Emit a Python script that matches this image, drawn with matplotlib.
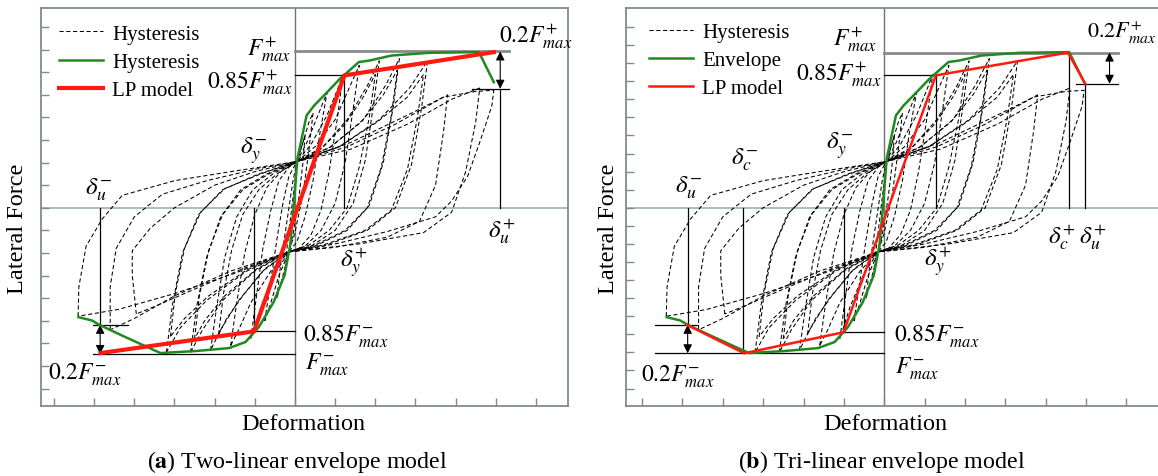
import matplotlib
matplotlib.use("Agg")
import matplotlib.pyplot as plt

plt.rcParams['font.family'] = ['Liberation Serif', 'DejaVu Serif']
plt.rcParams['mathtext.fontset'] = 'stix'

# ---------------------------------------------------------------- data
# skeleton (envelope) curve, shared by both panels
env_x = [-5.39, -5.05, -4.87, -4.31, -3.35, -2.47, -1.64, -1.23, -0.90, -0.53,
         -0.26, -0.12, -0.03, 0.06, 0.29, 0.48, 0.76, 1.12, 1.59, 1.86, 2.41,
         3.34, 4.58, 4.95]
env_y = [-4.84, -4.99, -5.18, -5.65, -6.43, -6.34, -6.21, -5.94, -5.28, -4.17,
         -2.99, -1.67, 0.10, 2.17, 4.09, 4.53, 5.04, 5.71, 6.45, 6.52, 6.74,
         6.86, 6.89, 5.56]

# bilinear LP model
lp2_x = [-4.84, -1.02, 1.23, 4.95]
lp2_y = [-6.43, -5.47, 5.86, 6.89]

# trilinear LP model
lp3_x = [-4.89, -3.47, -1.01, 1.28, 4.55, 4.98]
lp3_y = [-5.18, -6.44, -5.51, 5.86, 6.87, 5.49]

# hysteresis cycles (deformation, force)
loop_0 = [(-0.25, -3.0), (-0.2, -1.8), (-0.1, -0.3), (0.0, 1.2), (0.05, 2.0), (0.15, 2.6),
          (0.25, 3.2), (0.2, 2.0), (0.1, 0.5), (-0.05, -1.2), (-0.15, -1.95), (-0.22, -2.5),
          (-0.25, -3.0)]
loop_1 = [(-0.45, -4.0), (-0.35, -2.4), (-0.2, -0.6), (-0.05, 1.2), (0.05, 2.0), (0.2, 2.9),
          (0.35, 3.8), (0.45, 4.2), (0.35, 2.6), (0.2, 0.6), (0.0, -1.1), (-0.15, -1.95),
          (-0.3, -3.0), (-0.45, -4.0)]
loop_2 = [(-0.75, -5.0), (-0.6, -3.2), (-0.45, -1.4), (-0.3, 0.2), (-0.15, 1.4), (0.05, 2.05),
          (0.3, 2.9), (0.55, 4.0), (0.8, 5.1), (0.62, 3.3), (0.45, 1.2), (0.25, -0.4),
          (0.05, -1.5), (-0.15, -1.95), (-0.4, -3.0), (-0.6, -4.2), (-0.75, -5.0)]
loop_3 = [(-1.1, -5.8), (-0.95, -3.8), (-0.8, -1.8), (-0.6, -0.1), (-0.4, 1.2), (-0.15, 1.8),
          (0.05, 2.05), (0.4, 2.8), (0.8, 4.1), (1.05, 5.2), (1.2, 5.9), (1.05, 3.9),
          (0.85, 1.6), (0.65, -0.1), (0.4, -1.2), (0.1, -1.8), (-0.15, -1.95), (-0.5, -2.9),
          (-0.85, -4.4), (-1.1, -5.8)]
loop_4 = [(-1.6, -6.1), (-1.45, -4.2), (-1.25, -2.0), (-1.0, -0.3), (-0.7, 0.9), (-0.35, 1.6),
          (0.05, 2.05), (0.5, 2.7), (1.0, 3.9), (1.35, 5.3), (1.6, 6.3), (1.45, 4.4),
          (1.25, 2.0), (1.0, 0.2), (0.65, -1.0), (0.25, -1.7), (-0.15, -1.95), (-0.6, -2.8),
          (-1.1, -4.2), (-1.4, -5.4), (-1.6, -6.1)]
loop_5 = [(-2.1, -6.3), (-1.95, -4.4), (-1.75, -2.2), (-1.45, -0.4), (-1.05, 0.8), (-0.55, 1.5),
          (0.05, 2.05), (0.7, 2.7), (1.3, 3.9), (1.8, 5.4), (2.1, 6.5), (1.95, 4.5),
          (1.75, 2.1), (1.45, 0.2), (1.0, -1.0), (0.4, -1.7), (-0.15, -1.95), (-0.8, -2.8),
          (-1.4, -4.1), (-1.85, -5.4), (-2.1, -6.3)]
loop_5b = [(-1.9, -5.6), (-1.78, -3.8), (-1.58, -1.9), (-1.3, -0.3), (-0.9, 0.8), (-0.45, 1.5),
           (0.05, 2.05), (0.65, 2.6), (1.25, 3.7), (1.7, 4.9), (2.0, 5.9), (1.85, 4.0),
           (1.6, 1.8), (1.3, 0.0), (0.85, -1.0), (0.35, -1.65), (-0.15, -1.95), (-0.75, -2.7),
           (-1.3, -3.9), (-1.7, -4.9), (-1.9, -5.6)]
loop_6 = [(-2.6, -6.4), (-2.45, -4.4), (-2.2, -2.2), (-1.85, -0.4), (-1.35, 0.8), (-0.7, 1.5),
          (0.05, 2.05), (0.9, 2.7), (1.7, 3.9), (2.25, 5.4), (2.6, 6.6), (2.45, 4.5),
          (2.2, 2.0), (1.85, 0.1), (1.3, -1.0), (0.5, -1.7), (-0.15, -1.95), (-1.0, -2.8),
          (-1.8, -4.1), (-2.3, -5.4), (-2.6, -6.4)]
loop_6b = [(-2.5, -5.8), (-2.38, -3.9), (-2.15, -1.9), (-1.8, -0.3), (-1.3, 0.8), (-0.65, 1.5),
           (0.05, 2.05), (0.85, 2.65), (1.65, 3.8), (2.2, 5.0), (2.55, 6.1), (2.4, 4.1),
           (2.15, 1.8), (1.8, 0.0), (1.25, -1.0), (0.5, -1.65), (-0.15, -1.95), (-0.95, -2.7),
           (-1.75, -3.9), (-2.25, -5.0), (-2.5, -5.8)]
loop_7 = [(-3.2, -6.4), (-3.05, -4.3), (-2.8, -2.0), (-2.4, -0.3), (-1.8, 0.8), (-0.9, 1.5),
          (0.05, 2.05), (1.1, 2.7), (2.1, 3.9), (2.85, 5.3), (3.3, 6.5), (3.15, 4.4),
          (2.9, 1.9), (2.5, 0.0), (1.8, -1.0), (0.7, -1.7), (-0.15, -1.95), (-1.2, -2.8),
          (-2.2, -4.1), (-2.85, -5.3), (-3.2, -6.4)]
loop_7b = [(-3.1, -5.7), (-2.98, -3.8), (-2.75, -1.8), (-2.35, -0.2), (-1.75, 0.85), (-0.85, 1.5),
           (0.05, 2.05), (1.1, 2.7), (2.05, 3.8), (2.8, 4.9), (3.2, 5.9), (3.05, 4.0),
           (2.8, 1.7), (2.4, -0.1), (1.75, -1.0), (0.7, -1.65), (-0.15, -1.95), (-1.2, -2.75),
           (-2.15, -3.9), (-2.75, -4.9), (-3.1, -5.7)]
loop_8 = [(-3.95, -4.7), (-4.05, -3.0), (-4.05, -1.9), (-3.6, -0.9), (-3.0, 0.0), (-2.0, 1.0),
          (-1.0, 1.6), (0.05, 2.05), (1.3, 2.7), (2.5, 3.7), (3.4, 4.6), (3.8, 5.0),
          (3.7, 3.4), (3.5, 1.0), (3.1, -0.6), (2.3, -1.3), (1.0, -1.75), (-0.15, -1.95),
          (-1.3, -2.7), (-2.5, -3.6), (-3.4, -4.3), (-3.95, -4.7)]
loop_9 = [(-4.6, -5.4), (-4.6, -3.5), (-4.45, -1.8), (-4.0, -0.4), (-3.3, 0.6), (-2.2, 1.2),
          (-1.0, 1.7), (0.05, 2.05), (1.4, 2.6), (2.8, 3.7), (3.9, 4.8), (4.6, 5.3),
          (4.5, 3.8), (4.25, 1.6), (3.9, -0.2), (3.2, -1.1), (1.6, -1.6), (-0.15, -1.95),
          (-1.6, -2.8), (-3.0, -3.9), (-4.0, -4.9), (-4.6, -5.4)]
loop_10 = [(-5.4, -4.8), (-5.38, -3.5), (-5.2, -1.7), (-4.8, -0.5), (-4.3, 0.55), (-3.0, 1.2),
           (-1.6, 1.6), (0.05, 2.05), (1.4, 2.9), (2.8, 4.1), (3.7, 4.9), (4.5, 5.15),
           (4.95, 5.2), (4.9, 4.5), (4.6, 2.9), (4.3, 1.4), (3.9, 0.3), (3.5, -0.4),
           (2.3, -1.05), (1.0, -1.6), (-0.15, -1.95), (-1.5, -2.9), (-3.0, -3.8),
           (-4.4, -4.5), (-5.4, -4.8)]
hysteresis_cycles = [loop_0, loop_1, loop_2, loop_3, loop_4, loop_5, loop_5b, loop_6,
                     loop_6b, loop_7, loop_7b, loop_8, loop_9, loop_10]

# characteristic force levels
fmax_pos_a, f85_pos_a, f20_pos_a = 6.92, 5.86, 5.27
fmax_neg_a, f85_neg_a, f20_neg_a = -6.47, -5.47, -5.18
fmax_pos_b, f85_pos_b, f20_pos_b = 6.87, 5.86, 5.49
fmax_neg_b, f85_neg_b, f20_neg_b = -6.44, -5.51, -5.18

# characteristic displacements
dy_neg_a, dy_pos_a, du_neg_a, du_pos_a = -1.01, 1.23, -4.85, 5.11
dy_neg_b, dy_pos_b, dc_neg_b, dc_pos_b = -1.00, 1.28, -3.50, 4.57
du_neg_b, du_pos_b = -4.87, 4.98

legend_a = ['Hysteresis', 'Hysteresis', 'LP model']
legend_b = ['Hysteresis', 'Envelope', 'LP model']
captions = [r'($\mathbf{a}$) Two-linear envelope model', r'($\mathbf{b}$) Tri-linear envelope model']

# ---------------------------------------------------------------- styling
W, H = 1158, 477
SPINE = '#7f8c8c'
GREEN = '#1f8a1f'
RED = '#ff1a10'
DASH = (0, (4, 2.5))
LBL = 17
AX_FS = 17.5


def fig_box(left, top, right, bottom):
    return [left / W, 1 - bottom / H, (right - left) / W, (bottom - top) / H]


fig = plt.figure(figsize=(W / 100, H / 100), dpi=100)
fig.patch.set_facecolor('white')

ax_a = fig.add_axes(fig_box(40.7, 9.3, 567.7, 406.7))
ax_b = fig.add_axes(fig_box(626.3, 9.3, 1162, 406.7))


def setup(ax, xlim, yticks):
    ax.set_xlim(*xlim)
    ax.set_ylim(-8.76, 8.83)
    ax.set_xticks(range(-6, 7))
    ax.set_yticks(yticks)
    ax.set_xticklabels([])
    ax.set_yticklabels([])
    ax.tick_params(direction='in', length=6, width=1.0, color=SPINE)
    for s in ax.spines.values():
        s.set_color(SPINE)
        s.set_linewidth(1.3)
    ax.axhline(0, color='#a3bab5', lw=1.3, zorder=1)
    ax.axvline(0, color='#707070', lw=1.0, zorder=1)


def draw_cycles(ax):
    first = None
    for cyc in hysteresis_cycles:
        xs = [p[0] for p in cyc]
        ys = [p[1] for p in cyc]
        ln, = ax.plot(xs, ys, color='black', lw=0.75, linestyle=DASH, zorder=2)
        if first is None:
            first = ln
    return first


def vline(ax, x, y0, y1, **kw):
    ax.plot([x, x], [y0, y1], color=kw.get('color', 'black'), lw=kw.get('lw', 0.9), zorder=3)


def hline(ax, y, x0, x1, **kw):
    ax.plot([x0, x1], [y, y], color=kw.get('color', 'black'), lw=kw.get('lw', 0.9), zorder=3)


def arrow(ax, x, y0, y1):
    ax.annotate('', xy=(x, y0), xytext=(x, y1),
                arrowprops=dict(arrowstyle='<|-|>', color='black', lw=0.8,
                                shrinkA=0, shrinkB=0, mutation_scale=13), zorder=4)


def legend(ax, handles, labels, anchor):
    ax.legend(handles, labels, loc='upper left', bbox_to_anchor=anchor,
              frameon=False, fontsize=15, handlelength=2.1, handletextpad=0.45,
              labelspacing=0.42, borderpad=0, borderaxespad=0)


# ---------------------------------------------------------------- panel (a)
setup(ax_a, (-6.33, 6.79), range(-8, 9))
h_hys = draw_cycles(ax_a)
hline(ax_a, fmax_pos_a, 0, 5.32, color='#8a8a8a', lw=2.0)
hline(ax_a, f85_pos_a, 0, dy_pos_a)
hline(ax_a, f20_pos_a, 4.40, 5.32)
vline(ax_a, dy_pos_a, 0, f85_pos_a)
vline(ax_a, du_pos_a, 0, f20_pos_a)
hline(ax_a, fmax_neg_a, -5.04, 0)
hline(ax_a, f85_neg_a, dy_neg_a, 0)
hline(ax_a, f20_neg_a, -5.04, -4.16)
vline(ax_a, dy_neg_a, 0, f85_neg_a)
vline(ax_a, du_neg_a, 0, f20_neg_a)
arrow(ax_a, du_pos_a, fmax_pos_a, f20_pos_a)
arrow(ax_a, du_neg_a, f20_neg_a, fmax_neg_a)
h_env, = ax_a.plot(env_x, env_y, color=GREEN, lw=1.8, zorder=5)
h_lp, = ax_a.plot(lp2_x, lp2_y, color=RED, lw=3.0, zorder=6)

ax_a.text(5.09, 7.64, r'$0.2F^{+}_{max}$', fontsize=LBL, ha='left', va='center')
ax_a.text(-0.11, 7.05, r'$F^{+}_{max}$', fontsize=LBL, ha='right', va='center')
ax_a.text(-0.06, 5.60, r'$0.85F^{+}_{max}$', fontsize=LBL, ha='right', va='center')
ax_a.text(-1.03, 2.54, r'$\delta^{-}_{y}$', fontsize=LBL + 1, ha='center', va='center')
ax_a.text(-4.90, 0.84, r'$\delta^{-}_{u}$', fontsize=LBL + 1, ha='center', va='center')
ax_a.text(5.14, -1.00, r'$\delta^{+}_{u}$', fontsize=LBL + 1, ha='center', va='center')
ax_a.text(1.45, -2.41, r'$\delta^{+}_{y}$', fontsize=LBL + 1, ha='center', va='center')
ax_a.text(0.21, -5.66, r'$0.85F^{-}_{max}$', fontsize=LBL, ha='left', va='center')
ax_a.text(0.26, -6.91, r'$F^{-}_{max}$', fontsize=LBL, ha='left', va='center')
ax_a.text(-6.14, -7.36, r'$0.2F^{-}_{max}$', fontsize=LBL, ha='left', va='center')

legend(ax_a, [h_hys, h_env, h_lp], legend_a, (0.035, 0.96))

# ---------------------------------------------------------------- panel (b)
setup(ax_b, (-6.39, 6.88), [0.8 * k for k in range(-10, 11)])
h_hys_b = draw_cycles(ax_b)
hline(ax_b, fmax_pos_b, 0, 5.80, color='#8a8a8a', lw=2.0)
hline(ax_b, f85_pos_b, 0, dy_pos_b)
hline(ax_b, f20_pos_b, 4.75, 5.80)
vline(ax_b, dy_pos_b, 0, f85_pos_b)
vline(ax_b, dc_pos_b, 0, fmax_pos_b)
vline(ax_b, du_pos_b, 0, f20_pos_b)
hline(ax_b, fmax_neg_b, -5.67, 0)
hline(ax_b, f85_neg_b, dy_neg_b, 0)
hline(ax_b, f20_neg_b, -5.67, -4.62)
vline(ax_b, dy_neg_b, 0, f85_neg_b)
vline(ax_b, dc_neg_b, 0, fmax_neg_b)
vline(ax_b, du_neg_b, 0, f20_neg_b)
arrow(ax_b, 5.58, fmax_pos_b, f20_pos_b)
arrow(ax_b, du_neg_b, f20_neg_b, fmax_neg_b)
h_env_b, = ax_b.plot(env_x, env_y, color=GREEN, lw=1.8, zorder=5)
h_lp_b, = ax_b.plot(lp3_x, lp3_y, color=RED, lw=1.8, zorder=6)

ax_b.text(5.02, 7.78, r'$0.2F^{+}_{max}$', fontsize=LBL - 1, ha='left', va='center')
ax_b.text(-0.18, 7.49, r'$F^{+}_{max}$', fontsize=LBL, ha='right', va='center')
ax_b.text(-0.07, 5.94, r'$0.85F^{+}_{max}$', fontsize=LBL, ha='right', va='center')
ax_b.text(-1.10, 2.76, r'$\delta^{-}_{y}$', fontsize=LBL + 1, ha='center', va='center')
ax_b.text(-3.47, 2.17, r'$\delta^{-}_{c}$', fontsize=LBL + 1, ha='center', va='center')
ax_b.text(-4.84, 0.92, r'$\delta^{-}_{u}$', fontsize=LBL + 1, ha='center', va='center')
ax_b.text(4.39, -1.23, r'$\delta^{+}_{c}$', fontsize=LBL + 1, ha='center', va='center')
ax_b.text(5.16, -1.23, r'$\delta^{+}_{u}$', fontsize=LBL + 1, ha='center', va='center')
ax_b.text(1.33, -2.33, r'$\delta^{+}_{y}$', fontsize=LBL + 1, ha='center', va='center')
ax_b.text(0.23, -5.66, r'$0.85F^{-}_{max}$', fontsize=LBL, ha='left', va='center')
ax_b.text(0.26, -7.06, r'$F^{-}_{max}$', fontsize=LBL, ha='left', va='center')
ax_b.text(-6.03, -7.43, r'$0.2F^{-}_{max}$', fontsize=LBL, ha='left', va='center')

legend(ax_b, [h_hys_b, h_env_b, h_lp_b], legend_b, (0.043, 0.965))

# ---------------------------------------------------------------- axis titles and captions
for cx, lx in ((303, 18), (885, 609)):
    fig.text(cx / W, 1 - 425 / H, 'Deformation', fontsize=AX_FS, ha='center', va='center')
    fig.text(lx / W, 1 - 229 / H, 'Lateral Force', fontsize=AX_FS, ha='center', va='center',
             rotation=90)
fig.text(297 / W, 1 - 462 / H, captions[0], fontsize=17.3, ha='center', va='center')
fig.text(882 / W, 1 - 462 / H, captions[1], fontsize=17.3, ha='center', va='center')

fig.savefig('out.png', dpi=100, facecolor='white')
